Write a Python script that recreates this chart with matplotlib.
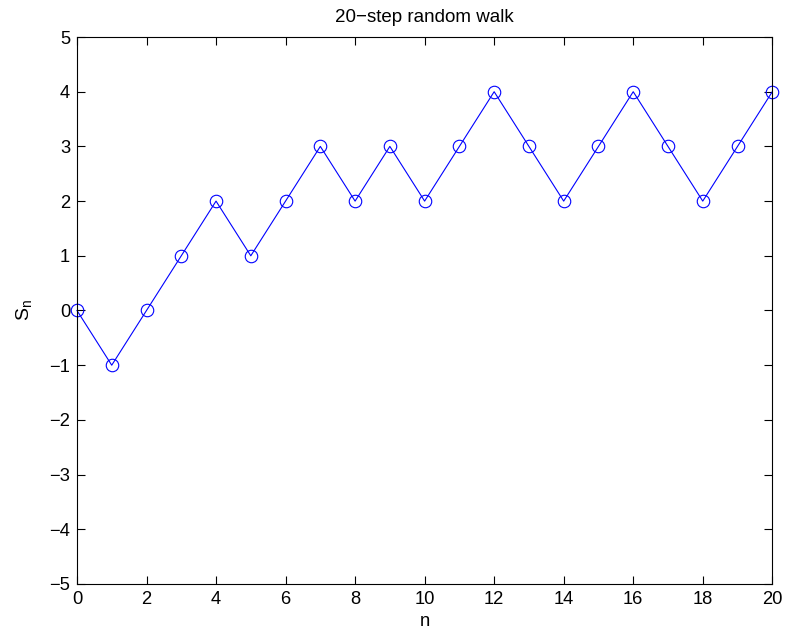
import numpy as np
import matplotlib
matplotlib.use('Agg')
import matplotlib.pyplot as plt

# walk positions S_n for n = 0..20
steps = np.arange(0, 21)
walk = [0, -1, 0, 1, 2, 1, 2, 3, 2, 3, 2, 3, 4, 3, 2, 3, 4, 3, 2, 3, 4]
xticks = np.arange(0, 21, 2)
yticks = np.arange(-5, 6, 1)

plt.rcParams['font.family'] = ['Liberation Sans', 'DejaVu Sans']
plt.rcParams['font.size'] = 13.2
plt.rcParams['mathtext.fontset'] = 'custom'
plt.rcParams['mathtext.rm'] = 'Liberation Sans'
plt.rcParams['mathtext.it'] = 'Liberation Sans'

fig = plt.figure(figsize=(7.87, 6.36), dpi=100)
ax = fig.add_axes([0.0978, 0.0818, 0.8835, 0.86])

ax.plot(steps, walk, '-o', color='blue', lw=0.8, markersize=9,
        markerfacecolor='none', markeredgewidth=0.8, clip_on=False)

ax.set_xlim(0, 20)
ax.set_ylim(-5, 5)
ax.set_xticks(xticks)
ax.set_yticks(yticks)
ax.tick_params(direction='in', top=True, right=True, length=6, width=0.8, pad=5)
for s in ax.spines.values():
    s.set_linewidth(0.8)

ax.set_title('20\u2212step random walk', fontsize=13.5, pad=10.5)
ax.set_xlabel('n', labelpad=3.5)
ax.set_ylabel(r'$\mathregular{S_n}$', fontsize=14, labelpad=11)

fig.savefig('out.png', dpi=100)
